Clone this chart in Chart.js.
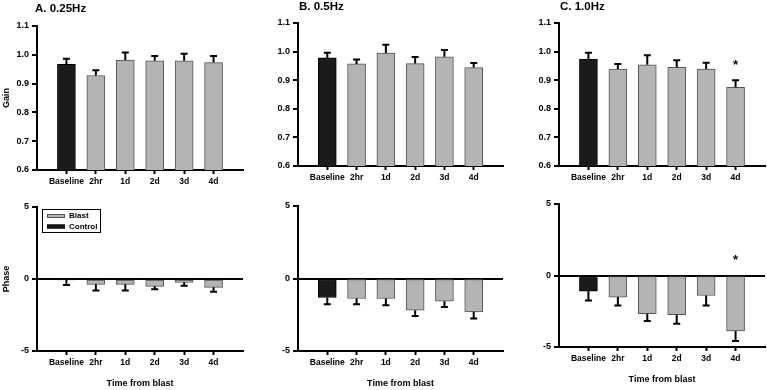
<!DOCTYPE html>
<html><head><meta charset="utf-8">
<script src="https://cdn.jsdelivr.net/npm/chart.js@4.4.1/dist/chart.umd.min.js"></script>
<style>
html,body{margin:0;padding:0;background:#fff;width:767px;height:390px;overflow:hidden;position:relative;}
.p{position:absolute;}
canvas{display:block;}
</style></head><body>
<div class="p" id="wA1"><canvas id="cA1"></canvas></div>
<div class="p" id="wB1"><canvas id="cB1"></canvas></div>
<div class="p" id="wC1"><canvas id="cC1"></canvas></div>
<div class="p" id="wA2"><canvas id="cA2"></canvas></div>
<div class="p" id="wB2"><canvas id="cB2"></canvas></div>
<div class="p" id="wC2"><canvas id="cC2"></canvas></div>
<script>
// ---------- data ----------
const categories = ['Baseline', '2hr', '1d', '2d', '3d', '4d'];
const seriesNames = ['Blast', 'Control'];
const panelTitles = ['A. 0.25Hz', 'B. 0.5Hz', 'C. 1.0Hz'];
const gainTicks = [0.6, 0.7, 0.8, 0.9, 1.0, 1.1];
const phaseTicks = [-5, 0, 5];

const gainA = [0.967, 0.928, 0.982, 0.979, 0.979, 0.973];
const gainAErr = [0.019, 0.018, 0.026, 0.017, 0.025, 0.023];
const gainB = [0.978, 0.957, 0.995, 0.958, 0.982, 0.944];
const gainBErr = [0.018, 0.015, 0.029, 0.023, 0.024, 0.016];
const gainC = [0.974, 0.939, 0.954, 0.945, 0.939, 0.875];
const gainCErr = [0.022, 0.018, 0.033, 0.025, 0.022, 0.025];

const phaseA = [-0.05, -0.37, -0.37, -0.51, -0.23, -0.58];
const phaseAErr = [0.37, 0.42, 0.42, 0.21, 0.24, 0.30];
const phaseB = [-1.31, -1.38, -1.38, -2.19, -1.57, -2.30];
const phaseBErr = [0.47, 0.40, 0.47, 0.39, 0.39, 0.46];
const phaseC = [-1.09, -1.51, -2.67, -2.74, -1.40, -3.88];
const phaseCErr = [0.65, 0.58, 0.52, 0.63, 0.69, 0.70];

const gainStarsC = [null, null, null, null, null, 0.962];
const phaseStarsC = [null, null, null, null, null, 1.25];

// ---------- rendering ----------
const FONT = "'Liberation Sans', Arial, Helvetica, sans-serif";
Chart.defaults.font.family = FONT;
Chart.defaults.color = '#000';

const GRAY = '#b4b4b4', GRAY_EDGE = '#555555', BLACK = '#1b1b1b';
const labels = ['', ...categories, ''];
const pad = arr => [null, ...arr, null];

const errorBarPlugin = {
  id: 'errorBars',
  afterDatasetsDraw(chart, args, opts) {
    const ctx = chart.ctx, ys = chart.scales.y;
    ctx.save();
    ctx.strokeStyle = '#000';
    ctx.lineWidth = 2;
    chart.data.datasets.forEach((ds, di) => {
      const meta = chart.getDatasetMeta(di);
      ds.data.forEach((v, i) => {
        if (v == null || ds.errors[i] == null) return;
        const bar = meta.data[i];
        const dir = v < 0 ? -1 : 1;
        const y0 = ys.getPixelForValue(v);
        const y1 = ys.getPixelForValue(v + dir * ds.errors[i]);
        ctx.beginPath();
        ctx.moveTo(bar.x, y0); ctx.lineTo(bar.x, y1);
        ctx.moveTo(bar.x - 3.5, y1); ctx.lineTo(bar.x + 3.5, y1);
        ctx.stroke();
      });
    });
    if (opts.stars) {
      const meta = chart.getDatasetMeta(0);
      ctx.fillStyle = '#000';
      ctx.font = 'bold 13px ' + FONT;
      ctx.textAlign = 'center';
      ctx.textBaseline = 'middle';
      opts.stars.forEach((s, i) => {
        if (s == null) return;
        const x = meta.data[i + 1].x;
        ctx.fillText('*', x, ys.getPixelForValue(s) + 3);
      });
    }
    ctx.restore();
  },
  afterDraw(chart, args, opts) {
    const ctx = chart.ctx, a = chart.chartArea;
    ctx.save();
    if (opts.title) {
      ctx.fillStyle = '#000';
      ctx.font = 'bold 11.5px ' + FONT;
      ctx.textAlign = 'left';
      ctx.textBaseline = 'middle';
      ctx.fillText(opts.title, a.left + opts.titleDx, opts.titleY);
    }
    if (opts.legend) {
      const x0 = a.left + 5, y0 = a.top + 2;
      ctx.strokeStyle = '#000';
      ctx.lineWidth = 1;
      ctx.strokeRect(x0 + 0.5, y0 + 0.5, 58, 23);
      ctx.font = 'bold 8px ' + FONT;
      ctx.textAlign = 'left';
      ctx.textBaseline = 'middle';
      chart.data.datasets.forEach((ds, i) => {
        const cy = y0 + 7 + i * 10.5;
        ctx.fillStyle = ds.backgroundColor;
        ctx.fillRect(x0 + 5, cy - 2, 18, 4);
        ctx.strokeStyle = ds.borderColor;
        ctx.strokeRect(x0 + 5.5, cy - 1.5, 17, 3);
        ctx.fillStyle = '#000';
        ctx.fillText(ds.label, x0 + 27, cy);
      });
    }
    ctx.restore();
  }
};

function build(id, panel, cfg) {
  const YW = 37, PR = 3;
  const wrap = document.getElementById('w' + id);
  const cv = document.getElementById('c' + id);
  const w = panel.r - panel.l + YW + PR;
  const h = panel.pt + (panel.b - panel.t) + panel.xh;
  wrap.style.left = (panel.l - YW) + 'px';
  wrap.style.top = (panel.t - panel.pt) + 'px';
  cv.width = w; cv.height = h;
  cv.style.width = w + 'px'; cv.style.height = h + 'px';

  const vals = cfg.values, errs = cfg.errors;
  const blast = pad([null, ...vals.slice(1)]);
  const control = pad([vals[0], null, null, null, null, null]);
  const errP = pad(errs);
  const tickVals = cfg.phase ? phaseTicks : gainTicks;

  new Chart(cv, {
    type: 'bar',
    data: {
      labels: labels,
      datasets: [
        { label: seriesNames[0], data: blast, errors: errP, backgroundColor: GRAY, borderColor: GRAY_EDGE,
          borderWidth: 1, barThickness: 18, grouped: false, borderSkipped: false },
        { label: seriesNames[1], data: control, errors: errP, backgroundColor: BLACK, borderColor: '#000',
          borderWidth: 1, barThickness: 18, grouped: false, borderSkipped: false }
      ]
    },
    options: {
      responsive: false,
      animation: false,
      devicePixelRatio: 1,
      layout: { padding: { left: 0, right: PR, top: panel.pt, bottom: 0 } },
      plugins: {
        legend: { display: false },
        tooltip: { enabled: false },
        errorBars: { stars: cfg.stars, title: cfg.title, titleDx: cfg.titleDx, titleY: cfg.titleY, legend: cfg.legend }
      },
      scales: {
        x: {
          type: 'category',
          offset: false,
          z: 1,
          grid: {
            offset: false, drawOnChartArea: false, color: '#000',
            tickLength: 4, tickWidth: 2,
            tickColor: c => (labels[c.index] ? '#000' : 'rgba(0,0,0,0)')
          },
          border: { display: true, color: '#000', width: 2 },
          ticks: { autoSkip: false, maxRotation: 0, minRotation: 0, padding: 3,
                   font: { size: 8.5, weight: 'bold' }, color: '#000' },
          title: { display: !!cfg.xTitle, text: cfg.xTitle || '', color: '#000',
                   font: { size: 9, weight: 'bold' }, padding: { top: 0, bottom: 0 } },
          afterFit: s => { s.height = panel.xh; }
        },
        y: {
          min: tickVals[0], max: tickVals[tickVals.length - 1],
          z: 1,
          afterBuildTicks: s => { s.ticks = tickVals.map(v => ({ value: v })); },
          grid: {
            drawOnChartArea: !!cfg.phase,
            color: c => (c.tick && c.tick.value === 0 ? '#000' : 'rgba(0,0,0,0)'),
            lineWidth: c => (c.tick && c.tick.value === 0 ? 2 : 0),
            tickLength: 5, tickWidth: 2, tickColor: '#000'
          },
          border: { display: true, color: '#000', width: 2 },
          ticks: { padding: 3, font: { size: 9, weight: 'bold' }, color: '#000',
                   callback: v => (cfg.phase ? String(v) : Number(v).toFixed(1)) },
          title: { display: !!cfg.yTitle, text: cfg.yTitle || '', color: '#000',
                   font: { size: 9, weight: 'bold' }, padding: { top: 1, bottom: 0 } },
          afterFit: s => { s.width = YW; }
        }
      }
    },
    plugins: [errorBarPlugin]
  });
}

// top row: gain
build('A1', { l: 37, r: 243, t: 26, b: 170, pt: 26, xh: 22 },
  { values: gainA, errors: gainAErr, yTitle: 'Gain', title: panelTitles[0], titleDx: -2, titleY: 9 });
build('B1', { l: 298, r: 503, t: 23, b: 166, pt: 23, xh: 22 },
  { values: gainB, errors: gainBErr, title: panelTitles[1], titleDx: 1, titleY: 7 });
build('C1', { l: 559, r: 765, t: 23, b: 166, pt: 23, xh: 22 },
  { values: gainC, errors: gainCErr, title: panelTitles[2], titleDx: 1, titleY: 7, stars: gainStarsC });

// bottom row: phase
build('A2', { l: 37, r: 243, t: 207, b: 351, pt: 10, xh: 38 },
  { values: phaseA, errors: phaseAErr, phase: true, yTitle: 'Phase', xTitle: 'Time from blast', legend: true });
build('B2', { l: 298, r: 503, t: 206, b: 351, pt: 10, xh: 38 },
  { values: phaseB, errors: phaseBErr, phase: true, xTitle: 'Time from blast' });
build('C2', { l: 559, r: 765, t: 204, b: 347, pt: 10, xh: 38 },
  { values: phaseC, errors: phaseCErr, phase: true, xTitle: 'Time from blast', stars: phaseStarsC });
</script>
</body></html>
